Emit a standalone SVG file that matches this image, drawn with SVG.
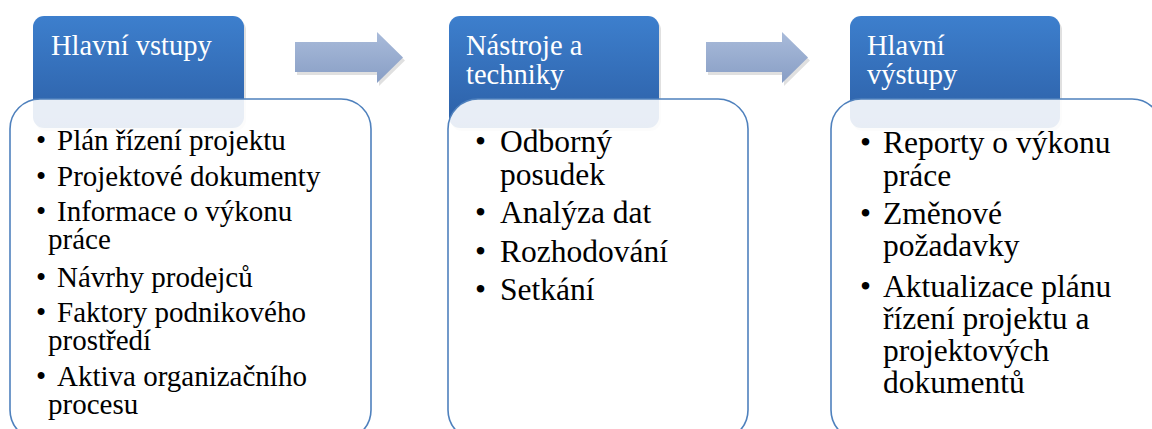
<svg xmlns="http://www.w3.org/2000/svg" width="1152" height="429" viewBox="0 0 1152 429">
  <defs>
    <linearGradient id="hdrFill" x1="0" y1="0" x2="0" y2="1">
      <stop offset="0" stop-color="#3d7fcd"/>
      <stop offset="1" stop-color="#2c5fa6"/>
    </linearGradient>
    <linearGradient id="arrowFill" x1="0" y1="0" x2="0" y2="1">
      <stop offset="0" stop-color="#a9bbda"/>
      <stop offset="1" stop-color="#889ec5"/>
    </linearGradient>
  </defs>
  <style>
    .hdr { fill: url(#hdrFill); }
    .shadow { fill: #000000; fill-opacity: 0.12; }
    .box { fill: #ffffff; fill-opacity: 0.89; stroke: #4f81bd; stroke-width: 1.6; }
    .arrow { fill: url(#arrowFill); }
    .white { fill: #ffffff; }
  </style>

  <rect width="1152" height="429" fill="#ffffff"/>

  <!-- Column 1: main inputs -->
  <g id="inputs">
    <rect class="shadow" x="35" y="19" width="211" height="112" rx="11"/>
    <rect class="hdr" x="33" y="16" width="211" height="112" rx="11"/>
    <text class="white" x="51" y="55" font-family="Liberation Serif" font-size="28.5">Hlavní vstupy</text>
    <rect class="box" x="10" y="99" width="361" height="341" rx="30"/>
    <text x="36" y="150" font-family="Liberation Serif" font-size="29">•</text>
    <text x="57" y="150" font-family="Liberation Serif" font-size="29">Plán řízení projektu</text>
    <text x="36" y="186" font-family="Liberation Serif" font-size="29">•</text>
    <text x="57" y="186" font-family="Liberation Serif" font-size="29">Projektové dokumenty</text>
    <text x="36" y="221" font-family="Liberation Serif" font-size="29">•</text>
    <text x="57" y="221" font-family="Liberation Serif" font-size="29">Informace o výkonu</text>
    <text x="48" y="249" font-family="Liberation Serif" font-size="29">práce</text>
    <text x="36" y="287" font-family="Liberation Serif" font-size="29">•</text>
    <text x="57" y="287" font-family="Liberation Serif" font-size="29">Návrhy prodejců</text>
    <text x="36" y="322" font-family="Liberation Serif" font-size="29">•</text>
    <text x="57" y="322" font-family="Liberation Serif" font-size="29">Faktory podnikového</text>
    <text x="48" y="350" font-family="Liberation Serif" font-size="29">prostředí</text>
    <text x="36" y="386" font-family="Liberation Serif" font-size="29">•</text>
    <text x="57" y="386" font-family="Liberation Serif" font-size="29">Aktiva organizačního</text>
    <text x="48" y="414" font-family="Liberation Serif" font-size="29">procesu</text>
  </g>

  <!-- Column 2: tools and techniques -->
  <g id="tools">
    <rect class="shadow" x="451" y="19" width="210" height="112" rx="11"/>
    <rect class="hdr" x="449" y="16" width="210" height="112" rx="11"/>
    <text class="white" x="466" y="55" font-family="Liberation Serif" font-size="28.5">Nástroje a</text>
    <text class="white" x="466" y="84" font-family="Liberation Serif" font-size="28.5">techniky</text>
    <rect class="box" x="448" y="99" width="300" height="341" rx="30"/>
    <text x="475" y="152" font-family="Liberation Serif" font-size="31.5">•</text>
    <text x="500" y="152" font-family="Liberation Serif" font-size="31.5">Odborný</text>
    <text x="500" y="185" font-family="Liberation Serif" font-size="31.5">posudek</text>
    <text x="475" y="223" font-family="Liberation Serif" font-size="31.5">•</text>
    <text x="500" y="223" font-family="Liberation Serif" font-size="31.5">Analýza dat</text>
    <text x="475" y="262" font-family="Liberation Serif" font-size="31.5">•</text>
    <text x="500" y="262" font-family="Liberation Serif" font-size="31.5">Rozhodování</text>
    <text x="475" y="300" font-family="Liberation Serif" font-size="31.5">•</text>
    <text x="500" y="300" font-family="Liberation Serif" font-size="31.5">Setkání</text>
  </g>

  <!-- Column 3: main outputs -->
  <g id="outputs">
    <rect class="shadow" x="852" y="19" width="210" height="112" rx="11"/>
    <rect class="hdr" x="850" y="16" width="210" height="112" rx="11"/>
    <text class="white" x="867" y="55" font-family="Liberation Serif" font-size="28.5">Hlavní</text>
    <text class="white" x="867" y="84" font-family="Liberation Serif" font-size="28.5">výstupy</text>
    <rect class="box" x="831" y="99" width="331" height="341" rx="30"/>
    <text x="860" y="153" font-family="Liberation Serif" font-size="31.5">•</text>
    <text x="883" y="153" font-family="Liberation Serif" font-size="31.5">Reporty o výkonu</text>
    <text x="883" y="186" font-family="Liberation Serif" font-size="31.5">práce</text>
    <text x="860" y="224" font-family="Liberation Serif" font-size="31.5">•</text>
    <text x="883" y="224" font-family="Liberation Serif" font-size="31.5">Změnové</text>
    <text x="883" y="256" font-family="Liberation Serif" font-size="31.5">požadavky</text>
    <text x="860" y="297" font-family="Liberation Serif" font-size="31.5">•</text>
    <text x="883" y="297" font-family="Liberation Serif" font-size="31.5">Aktualizace plánu</text>
    <text x="883" y="329" font-family="Liberation Serif" font-size="31.5">řízení projektu a</text>
    <text x="883" y="361" font-family="Liberation Serif" font-size="31.5">projektových</text>
    <text x="883" y="393" font-family="Liberation Serif" font-size="31.5">dokumentů</text>
  </g>

  <!-- Connectors: block arrows between columns -->
  <g id="connectors">
    <path class="shadow" d="M297,45 H379 V35 L405,60.5 L379,86 V75 H297 Z"/>
    <path class="arrow" d="M295,42 H377 V32 L403,57.5 L377,83 V72 H295 Z"/>
    <path class="shadow" d="M708,45 H784 V35 L810,60.5 L784,86 V75 H708 Z"/>
    <path class="arrow" d="M706,42 H782 V32 L808,57.5 L782,83 V72 H706 Z"/>
  </g>
</svg>
